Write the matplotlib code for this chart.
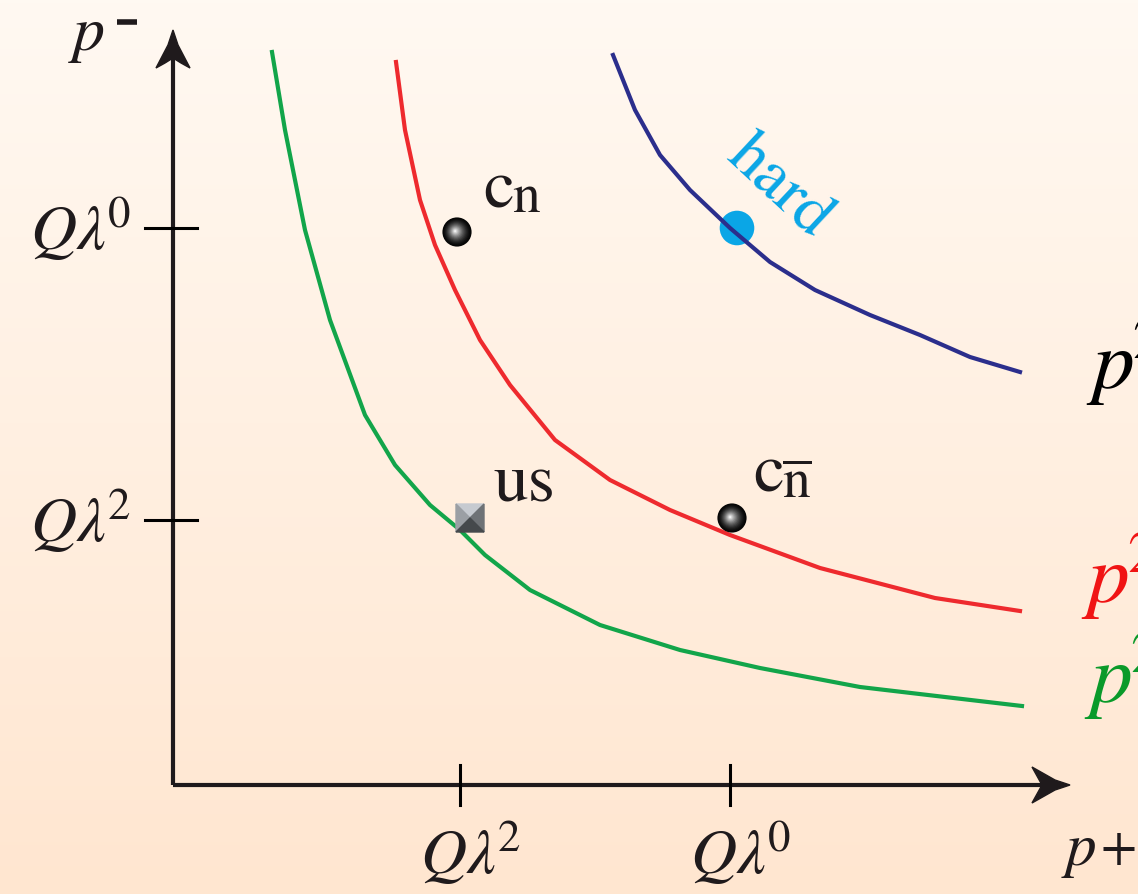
import numpy as np
import matplotlib
matplotlib.use('Agg')
import matplotlib.pyplot as plt
from matplotlib.patches import Polygon

plt.rcParams['mathtext.fontset'] = 'stix'
plt.rcParams['font.family'] = ['STIXGeneral', 'DejaVu Serif']

# Curves p+ p- = const (origin at the axes crossing).
green_x = [99, 112, 132, 157, 192, 222, 257, 287, 312, 357, 427, 507, 587, 687, 772, 849]
green_y = [733, 655, 555, 465, 370, 320, 280, 255, 230, 195, 160, 135, 117, 98, 88, 79]
red_x = [223, 232, 247, 262, 282, 307, 337, 382, 437, 497, 557, 647, 762, 847]
red_y = [723, 655, 585, 540, 495, 445, 400, 345, 305, 275, 250, 217, 187, 174]
blue_x = [440, 462, 487, 517, 557, 597, 642, 697, 747, 797, 847]
blue_y = [730, 675, 630, 595, 557, 523, 495, 470, 450, 428, 413]

# Tick positions and labels
x_ticks = [287, 557]
y_ticks = [557, 265]
tick_labels = [r'$Q\lambda^{\!2}$', r'$Q\lambda^{\!0}$']
y_tick_labels = [r'$Q\lambda^{\!0}$', r'$Q\lambda^{\!2}$']

# Modes
cn = (284, 553)
cnbar = (559, 267)
us = (297, 267)
hard = (564, 557)

GREEN = '#12a54a'
RED = '#ee2a2e'
NAVY = '#2b2e8c'
CYAN = '#0aa6e6'
INK = '#1f1a1c'

fig = plt.figure(figsize=(11.38, 8.94), dpi=100)
ax = fig.add_axes([0, 0, 1, 1])
ax.set_xlim(-173, 965)
ax.set_ylim(-109, 785)
ax.axis('off')

# background gradient
grad = np.linspace(0, 1, 256)[:, None]
top = np.array([255, 249, 242]) / 255
bot = np.array([255, 230, 208]) / 255
img = top[None, None, :] * (1 - grad[:, :, None]) + bot[None, None, :] * grad[:, :, None]
ax.imshow(img, extent=(-173, 965, -109, 785), aspect='auto', zorder=0)

# axes with arrows
ax.plot([0, 0], [0, 730], color=INK, lw=3, solid_capstyle='butt', zorder=2)
ax.plot([0, 870], [0, 0], color=INK, lw=3, solid_capstyle='butt', zorder=2)
up = [(0, 755), (5, 740), (17, 717), (8, 722), (0, 727), (-8, 722), (-17, 717), (-5, 740)]
right = [(897, 0), (882, 5), (859, 18), (864, 9), (869, 0), (864, -9), (859, -18), (882, -5)]
ax.add_patch(Polygon(up, closed=True, color=INK, zorder=3))
ax.add_patch(Polygon(right, closed=True, color=INK, zorder=3))

for xt in x_ticks:
    ax.plot([xt, xt], [-20, 20], color='black', lw=2.2, zorder=2)
for yt in y_ticks:
    ax.plot([-28, 24], [yt, yt], color='black', lw=2.2, zorder=2)

for xt, lab in zip(x_ticks, tick_labels):
    ax.text(xt + 10, -34, lab, fontsize=46, ha='center', va='top', color=INK)
for yt, lab in zip(y_ticks, y_tick_labels):
    ax.text(-43, yt - 2, lab, fontsize=46, ha='right', va='center', color=INK)

ax.text(-105, 735, r'$p$', fontsize=46, ha='left', va='baseline', color=INK)
ax.plot([-56, -36], [763, 763], color=INK, lw=4, solid_capstyle='butt')
ax.text(888, -80, r'$p$', fontsize=44, ha='left', va='baseline', color=INK)
ax.text(928, -78, '+', fontsize=38, ha='left', va='baseline', color=INK)

# curves
ax.plot(green_x, green_y, color=GREEN, lw=3, zorder=4)
ax.plot(red_x, red_y, color=RED, lw=3, zorder=4)
ax.plot(blue_x, blue_y, color=NAVY, lw=3, zorder=4)

# right-hand labels, clipped by the page edge as in the original
ax.text(913, 396, r'$p^{\!2}\!\sim Q^2$', fontsize=60, ha='left', va='baseline', color='black')
ax.text(908, 182, r'$p^{\!2}\!\sim Q^2\lambda^2$', fontsize=60, ha='left', va='baseline', color='#f01414')
ax.text(911, 82, r'$p^{\!2}\!\sim Q^2\lambda^4$', fontsize=60, ha='left', va='baseline', color='#0a9a2a')


def ball(x, y):
    n = 14
    for i in range(n):
        f = 1 - i / n
        g = 0.02 + 0.93 * (i / (n - 1)) ** 1.6
        ax.scatter(x - 2 * (1 - f), y + 1 * (1 - f), s=(21 * f) ** 2,
                   color=(g, g, g), edgecolors='none', zorder=6)


ball(*cn)
ball(*cnbar)

cx, cy = us
h = 14
ax.add_patch(Polygon([(cx - h, cy + h), (cx + h, cy + h), (cx, cy)], color='#c6cad0', zorder=6))
ax.add_patch(Polygon([(cx - h, cy + h), (cx - h, cy - h), (cx, cy)], color='#9b9fa4', zorder=6))
ax.add_patch(Polygon([(cx + h, cy + h), (cx + h, cy - h), (cx, cy)], color='#6e7276', zorder=6))
ax.add_patch(Polygon([(cx - h, cy - h), (cx + h, cy - h), (cx, cy)], color='#45494c', zorder=6))

ax.scatter(*hard, s=620, color=CYAN, edgecolors='none', zorder=3)

ax.text(cn[0] + 26, cn[1] + 24, 'c', fontsize=50, ha='left', va='baseline', color=INK)
ax.text(cn[0] + 55, cn[1] + 20, 'n', fontsize=40, ha='left', va='baseline', color=INK)
ax.text(cnbar[0] + 21, cnbar[1] + 26, 'c', fontsize=50, ha='left', va='baseline', color=INK)
ax.text(cnbar[0] + 50, cnbar[1] + 20, r'$\overline{\mathrm{n}}$', fontsize=40,
        ha='left', va='baseline', color=INK)
ax.text(us[0] + 23, us[1] + 16, 'us', fontsize=50, ha='left', va='baseline', color=INK)
ax.text(hard[0] + 42, hard[1] + 40, 'hard', fontsize=48, ha='center', va='center',
        rotation=-43, rotation_mode='anchor', color=CYAN)

fig.savefig('out.png', dpi=100)
